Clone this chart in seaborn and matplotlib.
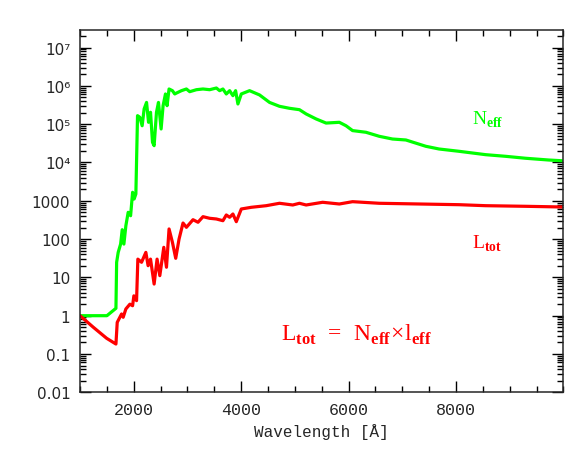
import matplotlib
matplotlib.use("Agg")
import matplotlib.pyplot as plt
import matplotlib.ticker as mticker
import seaborn as sns
import pandas as pd

# N_eff curve (green)
neff_wave = [1000, 1501, 1669, 1682, 1711, 1756, 1786, 1817, 1854, 1897, 1942, 1979, 2008, 2040,
             2071, 2114, 2157, 2194, 2239, 2276, 2313, 2350, 2380, 2424, 2461, 2510, 2547, 2591,
             2621, 2658, 2721, 2764, 2796, 2889, 2981, 3043, 3167, 3290, 3414, 3539, 3600, 3661,
             3724, 3786, 3847, 3897, 3940, 4003, 4157, 4343, 4529, 4714, 4900, 5086, 5210, 5396,
             5581, 5828, 5953, 6075, 6324, 6571, 6818, 7067, 7438, 7685, 8057, 8552, 8924, 9295,
             9728, 9975]
neff_vals = [1.0, 1.0, 1.56, 24.8, 45, 74, 176, 74, 224, 500, 408, 1667, 1114, 1506,
             1.67e5, 1.51e5, 9.1e4, 2.5e5, 3.7e5, 1.12e5, 2.05e5, 3.37e4, 2.75e4, 2.05e5, 3.7e5, 7.5e4, 3.04e5, 6.15e5,
             3.04e5, 8.3e5, 7.5e5, 6.15e5, 6.5e5, 7.5e5, 8.3e5, 7.06e5, 7.95e5, 8.3e5, 7.95e5, 8.8e5, 7.5e5, 8.3e5,
             6.15e5, 7.5e5, 5.55e5, 7.5e5, 3.37e5, 6.15e5, 7.5e5, 5.8e5, 3.7e5, 2.93e5, 2.6e5, 2.39e5, 1.85e5, 1.37e5,
             1.07e5, 1.12e5, 9.1e4, 6.8e4, 6.15e4, 4.83e4, 4.1e4, 3.87e4, 2.65e4, 2.25e4, 1.96e4, 1.6e4, 1.45e4, 1.29e4,
             1.16e4, 1.11e4]

# L_tot curve (red)
ltot_wave = [1000, 1247, 1496, 1669, 1693, 1774, 1804, 1854, 1929, 1979, 2003, 2053, 2077, 2146,
             2226, 2268, 2313, 2380, 2435, 2486, 2560, 2610, 2658, 2721, 2782, 2844, 2918, 2981,
             3104, 3197, 3290, 3414, 3539, 3661, 3724, 3786, 3847, 3910, 4003, 4189, 4467, 4714,
             4961, 5086, 5210, 5518, 5828, 6075, 6571, 7314, 8057, 8552, 9295, 9975]
ltot_vals = [1.0, 0.50, 0.257, 0.182, 0.67, 1.11, 0.91, 1.5, 2.0, 1.82, 3.3, 2.47, 30, 24.8,
             45, 20.2, 30, 6.7, 30, 11.1, 61, 18.4, 184, 82, 31.5, 100, 263, 203,
             321, 275, 385, 349, 335, 302, 426, 371, 452, 285, 611, 676, 745, 861,
             777, 861, 777, 914, 825, 948, 861, 825, 791, 745, 718, 689]

ytick_vals = [0.01, 0.1, 1, 10, 100, 1000, 1e4, 1e5, 1e6, 1e7]
ytick_text = ["0.01", "0.1", "1", "10", "100", "1000", "10⁴", "10⁵", "10⁶", "10⁷"]

GREEN = "#00ff00"
RED = "#ff0000"

sns.set_style("ticks")
plt.rcParams["font.family"] = ["DejaVu Sans"]
plt.rcParams["mathtext.fontset"] = "custom"
plt.rcParams["mathtext.rm"] = "Liberation Serif"
plt.rcParams["mathtext.bf"] = "Liberation Serif:bold"

fig = plt.figure(figsize=(5.81, 4.60), dpi=100)
ax = fig.add_axes([0.1377, 0.145, 0.832, 0.787])

neff = pd.DataFrame({"wave": neff_wave, "val": neff_vals})
ltot = pd.DataFrame({"wave": ltot_wave, "val": ltot_vals})
sns.lineplot(data=neff, x="wave", y="val", color=GREEN, lw=2.3, sort=False, ax=ax)
sns.lineplot(data=ltot, x="wave", y="val", color=RED, lw=2.3, sort=False, ax=ax)

ax.set_yscale("log")
ax.set_xlim(1000, 10000)
ax.set_ylim(0.01, 2.83e7)

ax.set_xlabel("Wavelength [Å]", family="Liberation Mono", fontsize=11.5, labelpad=4)
ax.set_ylabel("")
for sp in ax.spines.values():
    sp.set_linewidth(1.1)

ax.text(0.811, 0.741, r"$\mathrm{N}_{\mathbf{eff}}$", color=GREEN, fontsize=14,
        transform=ax.transAxes, va="baseline", ha="left")
ax.text(0.811, 0.400, r"$\mathrm{L}_{\mathbf{tot}}$", color=RED, fontsize=14,
        transform=ax.transAxes, va="baseline", ha="left")
ax.text(0.4157, 0.145, r"$\mathrm{L}_{\mathbf{tot}}\ =\ \mathrm{N}_{\mathbf{eff}}\!\times\!\mathrm{l}_{\mathbf{eff}}$",
        color=RED, fontsize=17, transform=ax.transAxes, va="baseline", ha="left")

# ticks last: inward on all four sides, log minors on y
ax.xaxis.set_major_locator(mticker.FixedLocator([2000, 4000, 6000, 8000]))
ax.xaxis.set_minor_locator(mticker.MultipleLocator(500))
ax.yaxis.set_major_locator(mticker.FixedLocator(ytick_vals))
ax.yaxis.set_major_formatter(mticker.FixedFormatter(ytick_text))
minor_y = [m * 10.0 ** e for e in range(-2, 8) for m in range(2, 10)]
ax.yaxis.set_minor_locator(mticker.FixedLocator(minor_y))
ax.yaxis.set_minor_formatter(mticker.NullFormatter())

for lab in ax.get_xticklabels():
    lab.set_family("Liberation Mono")
    lab.set_fontsize(12)

ax.tick_params(which="both", direction="in", top=True, right=True, color="black", width=1.0)
ax.tick_params(which="major", length=8, pad=7)
ax.tick_params(which="minor", length=4)
ax.tick_params(axis="y", which="major", labelsize=11)
ax.xaxis.get_minor_ticks()
ax.yaxis.get_minor_ticks()

fig.savefig("out.png", dpi=100)
